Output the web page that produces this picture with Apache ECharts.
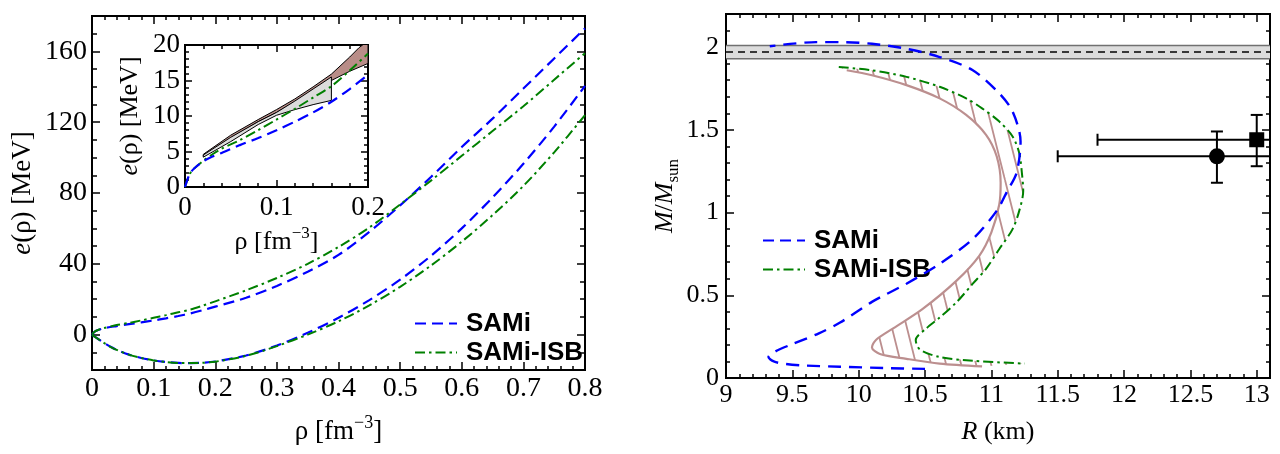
<!DOCTYPE html>
<html>
<head>
<meta charset="utf-8">
<script src="https://cdn.jsdelivr.net/npm/echarts@6/dist/echarts.min.js"></script>
<style>
html, body { margin: 0; padding: 0; background: #fff; }
#chart { width: 1280px; height: 454px; }
</style>
</head>
<body>
<div id="chart"></div>
<script>
// ---- energy per particle vs density (left panel + inset) ----
const rhoGrid = [0, 0.005, 0.01, 0.02, 0.03, 0.04, 0.06, 0.08, 0.1, 0.12, 0.14, 0.16, 0.18, 0.2,
                 0.25, 0.3, 0.35, 0.4, 0.45, 0.5, 0.55, 0.6, 0.65, 0.7, 0.75, 0.8];
const pnmSAMi = [0, 1.8, 2.6, 3.6, 4.3, 4.8, 5.9, 6.9, 8.0, 9.2, 10.5, 12.0, 13.8, 15.8,
                 20.8, 27.5, 35.5, 45, 58, 73, 89, 106, 122, 139, 156, 173];
const pnmISB  = [0, 1.8, 2.6, 3.7, 4.6, 5.4, 6.6, 8.0, 9.5, 11.0, 12.6, 14.2, 16.4, 18.8,
                 25, 32, 40, 49.5, 60.5, 73.5, 87, 101, 115, 129, 144, 159];
const snmSAMi = [0, -1.3, -2.5, -4.8, -6.9, -8.6, -11.3, -13.2, -14.6, -15.5, -16.0, -16.1, -15.9, -15.2,
                 -11.8, -6.2, 1, 9.5, 19.5, 31, 44.5, 60, 77.5, 96.5, 117.5, 140.5];
const snmISB  = [0, -1.3, -2.5, -4.8, -6.9, -8.6, -11.3, -13.2, -14.6, -15.5, -16.0, -16.1, -15.9, -15.3,
                 -12.0, -6.5, 0, 7.5, 16.5, 27, 39, 52.5, 67.5, 84, 103, 124];

// inset bands [rho, e]
const insetBrownBand = [[0.02, 4.6], [0.05, 7.3], [0.08, 9.5], [0.1, 10.9], [0.12, 12.4], [0.14, 14.1],
                        [0.16, 15.9], [0.18, 18.3], [0.19, 19.6], [0.2, 20.6],
                        [0.2, 17.4], [0.18, 16.3], [0.16, 15.0], [0.14, 13.6], [0.12, 12.0], [0.1, 10.5],
                        [0.08, 9.2], [0.05, 6.9], [0.02, 4.3]];
const insetGrayBand = [[0.02, 4.5], [0.05, 7.0], [0.08, 9.2], [0.1, 10.5], [0.12, 12.1], [0.14, 13.8],
                       [0.16, 15.5], [0.16, 12.2], [0.14, 11.6], [0.12, 10.9], [0.1, 10.1], [0.08, 8.8],
                       [0.05, 6.4], [0.02, 4.2]];

// ---- mass-radius (right panel) [R km, M/Msun] ----
const mrSAMi = [[10.50, 0.055], [10.2, 0.06], [9.86, 0.068], [9.6, 0.075], [9.45, 0.085], [9.36, 0.10],
                [9.32, 0.127], [9.37, 0.16], [9.5, 0.205], [9.7, 0.27], [9.86, 0.335], [10.1, 0.46],
                [10.36, 0.57], [10.61, 0.69], [10.86, 0.84], [11.04, 1.01], [11.12, 1.13], [11.19, 1.24],
                [11.22, 1.43], [11.16, 1.61], [11.06, 1.72], [10.86, 1.86], [10.61, 1.94], [10.36, 1.99],
                [10.1, 2.02], [9.86, 2.03], [9.68, 2.03], [9.33, 2.005]];
const mrISB = [[9.85, 1.88], [10.1, 1.86], [10.36, 1.82], [10.61, 1.76], [10.81, 1.69], [10.93, 1.63],
               [11.06, 1.55], [11.16, 1.46], [11.21, 1.36], [11.23, 1.24], [11.24, 1.13], [11.21, 1.01],
               [11.16, 0.90], [11.06, 0.78], [10.96, 0.66], [10.86, 0.57], [10.74, 0.46], [10.61, 0.365],
               [10.51, 0.30], [10.43, 0.23], [10.46, 0.173], [10.61, 0.127], [10.86, 0.104], [11.25, 0.087]];
const mrBand = [[9.91, 1.86], [10.1, 1.83], [10.36, 1.77], [10.61, 1.69], [10.81, 1.59], [10.96, 1.47],
                [11.04, 1.34], [11.07, 1.18], [11.06, 1.05], [11.0, 0.88], [10.91, 0.74], [10.74, 0.59],
                [10.48, 0.416], [10.26, 0.30], [10.13, 0.23], [10.1, 0.185], [10.16, 0.145], [10.36, 0.116],
                [10.61, 0.087], [10.93, 0.07]];
const maxMassBand = [1.93, 1.97, 2.01];   // low, central, high
// observations: R, M, Rlow, Rhigh, Mlow, Mhigh, marker (0 circle, 1 square)
const obsR = [12.7, 13.0];
const obsM = [1.34, 1.44];
const obsRlo = [11.5, 11.8];
const obsRhi = [13.9, 14.2];
const obsMlo = [1.18, 1.28];
const obsMhi = [1.49, 1.59];
const obsKind = [0, 1];

const SERIF = 'Liberation Serif';
const BLUE = '#0000ff', GREEN = '#008000', BROWN = '#bc8f8f';

function zip(xs, ys) { return xs.map((x, i) => [x, ys[i]]); }

// 4 axes per dimension per grid: major + minor on main side, major + minor mirrored
function axesFor(dim, grid, min, max, majors, minorStep, opt) {
  const mainPos = dim === 'x' ? 'bottom' : 'left';
  const mirPos = dim === 'x' ? 'top' : 'right';
  const base = { type: 'value', gridIndex: grid, min: min, max: max,
                 axisLine: { show: false, onZero: false }, splitLine: { show: false } };
  const tickStyle = { color: '#000', width: 1.5 };
  const major = (pos, labels) => Object.assign({}, base, {
    position: pos,
    axisTick: { inside: true, length: opt.majorLen, customValues: majors, lineStyle: tickStyle },
    axisLabel: { show: labels, customValues: majors, margin: opt.margin, color: '#000',
                 fontFamily: SERIF, fontSize: opt.fontSize,
                 formatter: v => '{n|' + v + '}',
                 rich: { n: { fontFamily: SERIF, fontSize: opt.fontSize, color: '#000' } } },
  });
  const minor = pos => Object.assign({}, base, {
    position: pos, interval: minorStep,
    axisTick: { inside: true, length: opt.minorLen, lineStyle: tickStyle },
    axisLabel: { show: false },
  });
  const m = major(mainPos, true);
  if (opt.name) {
    Object.assign(m, { name: opt.name, nameLocation: 'middle', nameGap: opt.nameGap,
                       nameRotate: dim === 'y' ? 90 : 0, nameTextStyle: opt.nameStyle });
  }
  return [m, minor(mainPos), major(mirPos, false), minor(mirPos)];
}

function nameStyle(size) {
  return {
    fontFamily: SERIF, fontSize: size, color: '#000', lineHeight: size + 8,
    rich: {
      i: { fontFamily: SERIF, fontSize: size, fontStyle: 'italic', lineHeight: size + 8 },
      t: { fontFamily: SERIF, fontSize: size, lineHeight: size + 8 },
      sup: { fontFamily: SERIF, fontSize: Math.round(size * 0.65), verticalAlign: 'top', lineHeight: size + 8 },
      sub: { fontFamily: SERIF, fontSize: Math.round(size * 0.65), verticalAlign: 'bottom', lineHeight: size + 8 },
    }
  };
}

const xAxes = [].concat(
  axesFor('x', 0, 0, 0.8, [0, 0.1, 0.2, 0.3, 0.4, 0.5, 0.6, 0.7, 0.8], 0.02,
    { majorLen: 8, minorLen: 4, margin: 5, fontSize: 28,
      name: '{t|ρ [fm}{sup|−3}{t|]}', nameGap: 44, nameStyle: nameStyle(27) }),
  axesFor('x', 1, 0, 0.2, [0, 0.1, 0.2], 0.02,
    { majorLen: 7, minorLen: 4, margin: 7, fontSize: 27,
      name: '{t|ρ [fm}{sup|−3}{t|]}', nameGap: 38, nameStyle: nameStyle(26) }),
  axesFor('x', 2, 9, 13.1, [9, 9.5, 10, 10.5, 11, 11.5, 12, 12.5, 13], 0.1,
    { majorLen: 8, minorLen: 4, margin: 4, fontSize: 26,
      name: '{i|R} {t|(km)}', nameGap: 37, nameStyle: nameStyle(26) })
);
const yAxes = [].concat(
  axesFor('y', 0, -20, 180, [0, 40, 80, 120, 160], 10,
    { majorLen: 8, minorLen: 5, margin: 5, fontSize: 28,
      name: '{i|e}{t|(ρ) [MeV]}', nameGap: 52, nameStyle: nameStyle(27) }),
  axesFor('y', 1, 0, 20, [0, 5, 10, 15, 20], 1,
    { majorLen: 7, minorLen: 4, margin: 5, fontSize: 27,
      name: '{i|e}{t|(ρ) [MeV]}', nameGap: 38, nameStyle: nameStyle(26) }),
  axesFor('y', 2, 0, 2.2, [0, 0.5, 1, 1.5, 2], 0.1,
    { majorLen: 8, minorLen: 4, margin: 7, fontSize: 26,
      name: '{i|M}{t|/}{i|M}{sub|sun}', nameGap: 44, nameStyle: nameStyle(26) })
);

// hatch pattern tile for the M-R band
const hatch = document.createElement('canvas');
hatch.width = 15; hatch.height = 60;
(function () {
  const ctx = hatch.getContext('2d');
  ctx.strokeStyle = BROWN; ctx.lineWidth = 1.8;
  [-15, 0, 15].forEach(off => {
    ctx.beginPath(); ctx.moveTo(off, 0); ctx.lineTo(off + 15, 60); ctx.stroke();
  });
})();

function polygonSeries(xi, yi, pts, style, z) {
  return {
    type: 'custom', xAxisIndex: xi, yAxisIndex: yi, clip: true, z: z, silent: true,
    data: [[pts[0][0], pts[0][1]]],
    renderItem: (params, api) => ({
      type: 'polygon',
      shape: { points: pts.map(p => api.coord(p)) },
      style: style
    })
  };
}

function lineSeries(name, xi, yi, data, color, dash, width, z) {
  return {
    name: name, type: 'line', xAxisIndex: xi, yAxisIndex: yi, data: data,
    showSymbol: false, symbol: 'none', smooth: 0.3, clip: true, z: z || 3,
    lineStyle: { color: color, width: width, type: dash }, itemStyle: { color: color }
  };
}

const blueDash = [11, 6];
const greenDashDot = [10, 4, 2.5, 4];

const series = [
  // left main
  lineSeries('SAMi', 0, 0, zip(rhoGrid, pnmSAMi), BLUE, blueDash, 2.2),
  lineSeries('SAMi-ISB', 0, 0, zip(rhoGrid, pnmISB), GREEN, greenDashDot, 2),
  lineSeries('SAMi', 0, 0, zip(rhoGrid, snmSAMi), BLUE, blueDash, 2.2),
  lineSeries('SAMi-ISB', 0, 0, zip(rhoGrid, snmISB), GREEN, greenDashDot, 2),
  // inset
  polygonSeries(4, 4, insetBrownBand, { fill: '#b98d88', stroke: '#000', lineWidth: 1 }, 2),
  polygonSeries(4, 4, insetGrayBand, { fill: '#dcdcdc', stroke: '#000', lineWidth: 1 }, 2),
  lineSeries('SAMi-ISB', 4, 4, zip(rhoGrid, pnmISB).slice(0, 14), GREEN, greenDashDot, 2),
  lineSeries('SAMi', 4, 4, zip(rhoGrid, pnmSAMi).slice(0, 14), BLUE, blueDash, 2.2),
  // right: maximum-mass band
  {
    type: 'custom', xAxisIndex: 8, yAxisIndex: 8, clip: true, z: 1, silent: true,
    data: [maxMassBand],
    renderItem: (params, api) => {
      const cs = params.coordSys;
      const yl = api.coord([9, api.value(0)])[1];
      const ym = api.coord([9, api.value(1)])[1];
      const yh = api.coord([9, api.value(2)])[1];
      return { type: 'group', children: [
        { type: 'rect', shape: { x: cs.x, y: yh, width: cs.width, height: yl - yh },
          style: { fill: '#dcdcdc', stroke: null } },
        { type: 'line', shape: { x1: cs.x, y1: yh, x2: cs.x + cs.width, y2: yh },
          style: { stroke: '#707070', lineWidth: 1.5 } },
        { type: 'line', shape: { x1: cs.x, y1: yl, x2: cs.x + cs.width, y2: yl },
          style: { stroke: '#707070', lineWidth: 1.5 } },
        { type: 'line', shape: { x1: cs.x, y1: ym, x2: cs.x + cs.width, y2: ym },
          style: { stroke: '#000', lineWidth: 1.5, lineDash: [7, 5] } }
      ] };
    }
  },
  polygonSeries(8, 8, mrBand.concat(mrISB.slice().reverse()),
    { fill: { image: hatch, repeat: 'repeat' }, stroke: null }, 2),
  lineSeries('band', 8, 8, mrBand, BROWN, 'solid', 2.2, 3),
  lineSeries('SAMi-ISB', 8, 8, mrISB, GREEN, greenDashDot, 2, 4),
  lineSeries('SAMi', 8, 8, mrSAMi, BLUE, [13, 8], 2.4, 4),
  // observational error bars
  {
    type: 'custom', xAxisIndex: 8, yAxisIndex: 8, clip: true, z: 5, silent: true,
    data: obsR.map((r, i) => [r, obsM[i], obsRlo[i], obsRhi[i], obsMlo[i], obsMhi[i], obsKind[i]]),
    renderItem: (params, api) => {
      const r = api.value(0), m = api.value(1);
      const c = api.coord([r, m]);
      const L = api.coord([api.value(2), m]), R = api.coord([api.value(3), m]);
      const B = api.coord([r, api.value(4)]), T = api.coord([r, api.value(5)]);
      const st = { stroke: '#000', lineWidth: 2 };
      const cap = 6;
      const kids = [
        { type: 'line', shape: { x1: L[0], y1: c[1], x2: R[0], y2: c[1] }, style: st },
        { type: 'line', shape: { x1: c[0], y1: B[1], x2: c[0], y2: T[1] }, style: st },
        { type: 'line', shape: { x1: L[0], y1: c[1] - cap, x2: L[0], y2: c[1] + cap }, style: st },
        { type: 'line', shape: { x1: R[0], y1: c[1] - cap, x2: R[0], y2: c[1] + cap }, style: st },
        { type: 'line', shape: { x1: c[0] - cap, y1: B[1], x2: c[0] + cap, y2: B[1] }, style: st },
        { type: 'line', shape: { x1: c[0] - cap, y1: T[1], x2: c[0] + cap, y2: T[1] }, style: st }
      ];
      if (api.value(6) === 0) {
        kids.push({ type: 'circle', shape: { cx: c[0], cy: c[1], r: 8 }, style: { fill: '#000' } });
      } else {
        kids.push({ type: 'rect', shape: { x: c[0] - 7.5, y: c[1] - 7.5, width: 15, height: 15 },
                    style: { fill: '#000' } });
      }
      return { type: 'group', children: kids };
    }
  }
];

const legendBase = {
  orient: 'vertical', padding: 0, itemGap: 0, itemWidth: 42, itemHeight: 14,
  data: ['SAMi', 'SAMi-ISB'], selectedMode: false,
  itemStyle: { opacity: 0 },
  textStyle: { fontFamily: 'Liberation Sans', fontWeight: 'bold', fontSize: 26, color: '#000',
               lineHeight: 29, padding: [0, 0, 0, 4] }
};

const chart = echarts.init(document.getElementById('chart'), null, { renderer: 'canvas' });
chart.setOption({
  animation: false,
  backgroundColor: '#fff',
  textStyle: { fontFamily: SERIF },
  grid: [
    { left: 92, top: 16, width: 493, height: 369, show: true, borderColor: '#000', borderWidth: 2,
      backgroundColor: 'transparent' },
    { left: 185, top: 45, width: 183, height: 142, show: true, borderColor: '#000', borderWidth: 2,
      backgroundColor: '#fff' },
    { left: 726, top: 14, width: 544, height: 381, show: true, borderColor: '#000', borderWidth: 2,
      backgroundColor: 'transparent' }
  ],
  xAxis: xAxes,
  yAxis: yAxes,
  legend: [
    Object.assign({}, legendBase, { left: 414, top: 309 }),
    Object.assign({}, legendBase, { left: 762, top: 226 })
  ],
  series: series
});
</script>
</body>
</html>
